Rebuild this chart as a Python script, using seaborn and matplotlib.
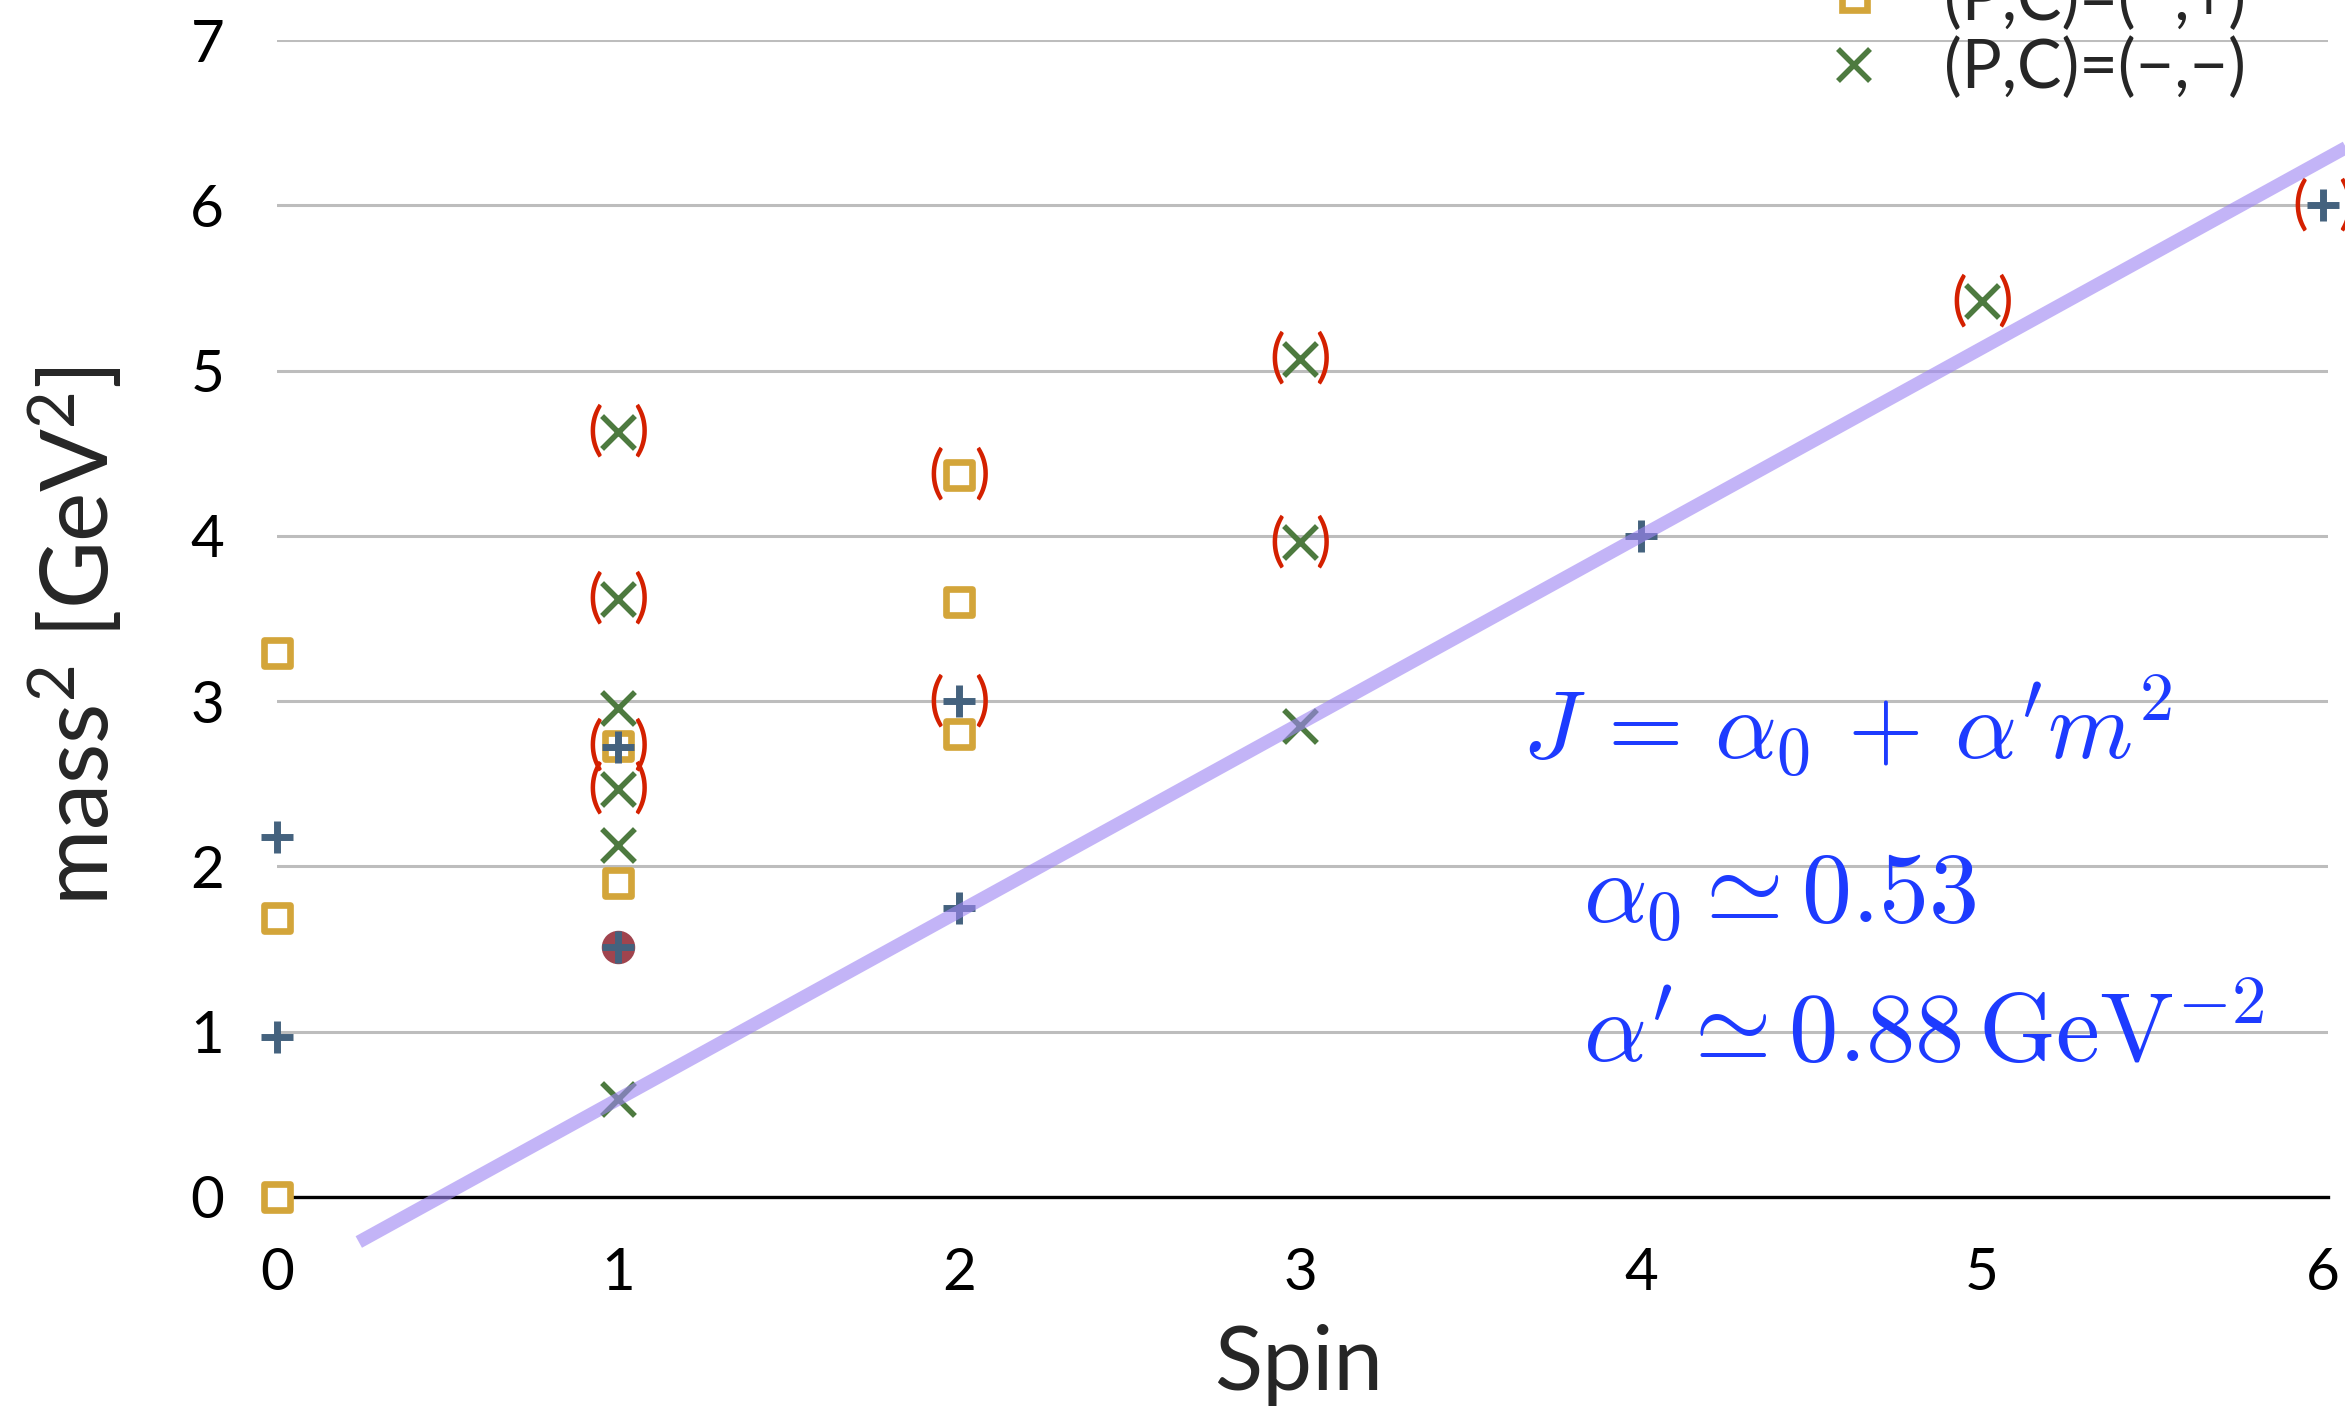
import matplotlib
matplotlib.use("Agg")
import matplotlib.pyplot as plt
from matplotlib.lines import Line2D
import seaborn as sns
import pandas as pd
import numpy as np

# ---------------- data ----------------
plus_spin = [0, 0, 1, 1, 2, 2, 4, 6]
plus_m2 = [2.18, 0.97, 2.72, 1.51, 3.00, 1.75, 4.00, 6.00]

square_spin = [0, 0, 0, 1, 1, 2, 2, 2]
square_m2 = [3.29, 1.69, 0.00, 2.73, 1.90, 4.37, 3.60, 2.80]

cross_spin = [1, 1, 1, 1, 1, 1, 3, 3, 3, 5]
cross_m2 = [4.63, 3.62, 2.96, 2.47, 2.13, 0.59, 5.07, 3.96, 2.85, 5.42]

circle_spin = [1]
circle_m2 = [1.51]

paren_spin = [1, 1, 1, 1, 2, 2, 3, 3, 5, 6]
paren_m2 = [4.63, 3.62, 2.73, 2.47, 4.37, 3.00, 5.07, 3.96, 5.42, 6.00]

fit_alpha0 = 0.48
fit_alphap = 0.88
fit_spin = [0.24, 6.1]

legend_labels = ["(P,C)=(+,+)", "(P,C)=(+,−)", "(P,C)=(−,+)", "(P,C)=(−,−)"]
xticks = [0, 1, 2, 3, 4, 5, 6]
xtick_labels = ["0", "1", "2", "3", "4", "5", "6"]
yticks = [0, 1, 2, 3, 4, 5, 6, 7]
ytick_labels = ["0", "1", "2", "3", "4", "5", "6", "7"]

# ---------------- style ----------------
sns.set_style("white")
plt.rcParams["font.family"] = ["Lato", "DejaVu Sans"]
plt.rcParams["mathtext.fontset"] = "custom"
plt.rcParams["mathtext.rm"] = "Lato"
plt.rcParams["mathtext.it"] = "Lato:italic"
plt.rcParams["mathtext.bf"] = "Lato:bold"

C_SQ = "#d3a53a"
C_PLUS = "#44627e"
C_X = "#4d7a3f"
C_CIRC = "#a0444e"
C_PAREN = "#d42000"
C_LINE = "#9f86f3"
C_TXT = "#1d3bff"

fig = plt.figure(figsize=(23.45, 14.19), dpi=100)
ax = fig.add_axes([0.1181, 0.1565, 0.8747, 0.8153])

ax.set_xlim(0, 6.015)
ax.set_ylim(0, 7)

# grid
ax.set_yticks(yticks)
ax.set_yticklabels(ytick_labels)
ax.set_xticks(xticks)
ax.set_xticklabels(xtick_labels)
ax.yaxis.grid(True, color="#bdbdbd", linewidth=2.2, zorder=0)
ax.xaxis.grid(False)
ax.set_axisbelow(True)
for s in ["left", "right", "top"]:
    ax.spines[s].set_visible(False)
ax.spines["bottom"].set_color("black")
ax.spines["bottom"].set_linewidth(2.4)
ax.tick_params(axis="both", length=0, labelsize=42, colors="black")
ax.tick_params(axis="y", pad=38)
ax.tick_params(axis="x", pad=36)

# markers
df_sq = pd.DataFrame({"spin": square_spin, "m2": square_m2})
df_pl = pd.DataFrame({"spin": plus_spin, "m2": plus_m2})
df_x = pd.DataFrame({"spin": cross_spin, "m2": cross_m2})
df_c = pd.DataFrame({"spin": circle_spin, "m2": circle_m2})

sns.scatterplot(data=df_c, x="spin", y="m2", ax=ax, marker="o", s=580,
                color=C_CIRC, edgecolor=C_CIRC, linewidth=0, zorder=4,
                clip_on=False, legend=False)
sns.scatterplot(data=df_sq, x="spin", y="m2", ax=ax, marker="s", s=330,
                color=C_SQ, facecolor="white", edgecolor=C_SQ, linewidth=4.8,
                zorder=5, clip_on=False, legend=False)
sns.scatterplot(data=df_x, x="spin", y="m2", ax=ax, marker="x", s=560,
                color=C_X, linewidth=4.0, zorder=6, clip_on=False, legend=False)
sns.scatterplot(data=df_pl, x="spin", y="m2", ax=ax, marker="+", s=520,
                color=C_PLUS, linewidth=5.0, zorder=7, clip_on=False, legend=False)

# parentheses around uncertain states
for sx, sy in zip(paren_spin, paren_m2):
    ax.annotate("(", (sx, sy), xytext=(-16.5, 0), textcoords="offset points",
                ha="center", va="center", fontsize=42, color=C_PAREN,
                zorder=8, annotation_clip=False)
    ax.annotate(")", (sx, sy), xytext=(16.5, 0), textcoords="offset points",
                ha="center", va="center", fontsize=42, color=C_PAREN,
                zorder=8, annotation_clip=False)

# Regge trajectory fit line
fit_m2 = [(j - fit_alpha0) / fit_alphap for j in fit_spin]
sns.lineplot(x=fit_spin, y=fit_m2, ax=ax, color=C_LINE, alpha=0.62,
             linewidth=9.5, solid_capstyle="butt", zorder=9, clip_on=False)

# labels
ax.set_xlabel("Spin", fontsize=64)
ax.set_ylabel(r"$\mathrm{mass}^{2}\ [\mathrm{GeV}^{2}]$", fontsize=67)
ax.xaxis.set_label_coords(0.498, -0.110)
ax.yaxis.set_label_coords(-0.074, 0.485)

# formula text
mkw = dict(color=C_TXT, math_fontfamily="cm", zorder=10)
ax.text(3.65, 2.65, r"$J\, =\, \alpha_0\, +\, \alpha^{\prime} m^2$", fontsize=70,
        ha="left", va="baseline", **mkw)
ax.text(3.83, 1.66, r"$\alpha_0 \simeq 0.53$", fontsize=72,
        ha="left", va="baseline", **mkw)
ax.text(3.83, 0.81, r"$\alpha^{\prime} \simeq 0.88\,\mathrm{GeV}^{-2}$", fontsize=71,
        ha="left", va="baseline", **mkw)

# legend (mostly cut off above the frame, as in the reference)
handles = [
    Line2D([], [], linestyle="none", marker="+", markersize=22, mew=5.0, color=C_PLUS),
    Line2D([], [], linestyle="none", marker="o", markersize=21, color=C_CIRC),
    Line2D([], [], linestyle="none", marker="s", markersize=18, mew=4.8,
           markerfacecolor="white", markeredgecolor=C_SQ),
    Line2D([], [], linestyle="none", marker="x", markersize=23, mew=4.0, color=C_X),
]
fig.legend(handles, legend_labels, loc="lower left",
           bbox_to_anchor=(0.7766, 0.9295), frameon=False, fontsize=48,
           borderpad=0, borderaxespad=0, handlelength=1.0, handletextpad=0.85,
           labelspacing=0.08)

fig.savefig("out.png", dpi=100)
